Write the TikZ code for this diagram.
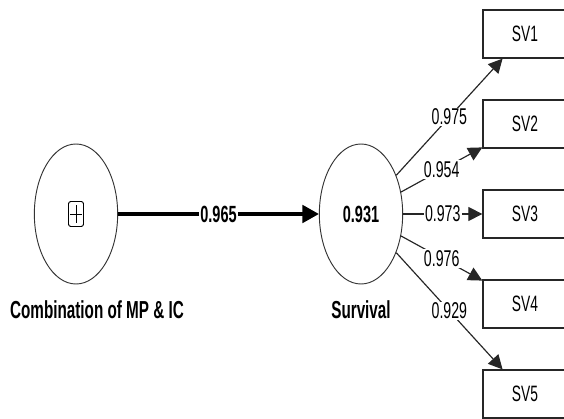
\documentclass[tikz,border=0pt]{standalone}
\usepackage{fontspec}
\setmainfont{Liberation Sans}[FakeStretch=0.62]
\usetikzlibrary{arrows.meta,positioning,shapes.geometric}

\begin{document}
\begin{tikzpicture}
    [inner sep=1pt,
      lvnode/.style={ellipse,draw=black!80,line width=0.8pt,
        minimum width=2.5cm,minimum height=4.2cm},
      svbox/.style={rectangle,draw=black!85,line width=1.1pt,
        minimum width=2.52cm,minimum height=1.44cm,
        font=\fontsize{19}{21}\selectfont},
      lvname/.style={font=\fontsize{21}{23}\selectfont\bfseries},
      coef/.style={fill=white,font=\fontsize{19.5}{21}\selectfont},
      inner/.style={line width=2.6pt,-{Triangle[length=14pt,width=15pt]}},
      outer/.style={line width=1pt,draw=black!85,-{Triangle[length=12pt,width=12pt]}}
    ]
    \useasboundingbox (0,0) rectangle (16.92,-12.57);

    \node [lvnode] (comb) at (2.28,-6.42) {};
    \node [lvnode,font=\fontsize{20}{22}\selectfont\bfseries] (surv) at (10.83,-6.42) {0.931};

    \node [lvname,below=0.45cm of comb,xshift=0.63cm] (combName) {Combination of MP \& IC};
    \node [lvname,below=0.45cm of surv] (survName) {Survival};

    % plus sign of the collapsed block
    \node [draw,rounded corners=2pt,line width=0.8pt,minimum width=0.45cm,
      minimum height=0.75cm,inner sep=0pt] (plusIcon) at (comb) {};
    \draw [line width=0.8pt] ([yshift=-0.13cm]plusIcon.north) -- ([yshift=0.13cm]plusIcon.south);
    \draw [line width=0.8pt] ([xshift=0.07cm]plusIcon.west) -- ([xshift=-0.07cm]plusIcon.east);

    \node [svbox] (sv1) at (15.75,-1.02) {SV1};
    \node [svbox] (sv2) at (15.75,-3.72) {SV2};
    \node [svbox] (sv3) at (15.75,-6.42) {SV3};
    \node [svbox] (sv4) at (15.75,-9.12) {SV4};
    \node [svbox] (sv5) at (15.75,-11.82) {SV5};

    \draw [inner] (comb) -- node [coef,font=\fontsize{20}{22}\selectfont\bfseries] {0.965} (surv);

    \draw [outer] (surv) -- node [coef] {0.975} (sv1);
    \draw [outer] (surv) -- node [coef] {0.954} (sv2);
    \draw [outer] (surv) -- node [coef] {0.973} (sv3);
    \draw [outer] (surv) -- node [coef] {0.976} (sv4);
    \draw [outer] (surv) -- node [coef] {0.929} (sv5);
  \end{tikzpicture}
\end{document}
